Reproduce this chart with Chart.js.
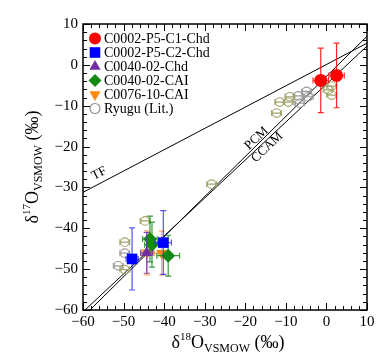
<!DOCTYPE html>
<html><head><meta charset="utf-8">
<script src="https://cdn.jsdelivr.net/npm/chart.js@4.4.1/dist/chart.umd.min.js"></script>
<style>html,body{margin:0;padding:0;background:#fff}</style>
</head><body>
<canvas id="c" width="390" height="360" style="width:390px;height:360px"></canvas>
<script>
// ---- data ----
const legendLabels = ['C0002-P5-C1-Chd','C0002-P5-C2-Chd','C0040-02-Chd','C0040-02-CAI','C0076-10-CAI','Ryugu (Lit.)'];
const xTickValues = [-60,-50,-40,-30,-20,-10,0,10];
const yTickValues = [-60,-50,-40,-30,-20,-10,0,10];

const c1X = [-1.4, 2.5],  c1Y = [-3.8, -2.6],  c1Ex = [1.9, 1.9], c1Ey = [7.9, 7.9];
const c2X = [-47.9, -40.2], c2Y = [-47.5, -43.5], c2Ex = [1.5, 2.0], c2Ey = [7.6, 7.8];
const c40ChdX = [-44.3], c40ChdY = [-46.0], c40ChdEx = [1.5], c40ChdEy = [5.0];
const c40CaiX = [-43.5, -43.0, -39.0], c40CaiY = [-42.6, -44.0, -46.7], c40CaiEx = [1.8, 1.8, 2.8], c40CaiEy = [5.6, 5.5, 5.0];
const c76X = [-44.2, -40.6], c76Y = [-46.0, -46.1], c76Ex = [1.5, 1.8], c76Ey = [5.4, 5.4];
const ryuguAX = [-11.5, -9.0, -9.4, -12.3, 1.3, 1.3, 0.4, -28.3, -44.7, -49.7, -49.7];
const ryuguAY = [-9.1, -7.8, -9.1, -11.8, -5.2, -7.4, -6.1, -29.2, -38.2, -43.4, -50.1];
const ryuguBX = [-7.0, -6.6, -4.5, -4.9, -49.7, -51.3];
const ryuguBY = [-7.6, -9.4, -7.8, -6.5, -46.1, -49.2];
const ryuguEx = 1.2;

const tfLineX = [-60, 10],  tfLineY = [-31.2, 5.3];
const pcmLineX = [-58.3, 10], pcmLineY = [-60, 7.0];
const ccamLineX = [-59.5, 10], ccamLineY = [-60, 4.6];

// ---- helpers ----
const pts = (xs, ys) => xs.map((x, i) => ({x: x, y: ys[i]}));
const SERIF = '"Liberation Serif", "DejaVu Serif", serif';
const minus = v => String(v).replace('-', '\u2212');

const RED = '#ff0000', BLUE = '#0000ff', PURPLE = '#7030a0', GREEN = '#138a13', ORANGE = '#ff8a10';
const OLIVE = '#a3a36a', GRAY = '#9a9a9a';

const lineDS = (xs, ys) => ({type: 'line', data: pts(xs, ys), showLine: true, borderColor: '#000', borderWidth: 1,
  pointRadius: 0, fill: false, order: 20});

const datasets = [
  {label: legendLabels[0], data: pts(c1X, c1Y), errX: c1Ex, errY: c1Ey, errColor: 'rgba(255,0,0,0.85)',
   pointStyle: 'circle', pointRadius: 6.5, backgroundColor: RED, borderColor: RED, borderWidth: 0, order: 1},
  {label: legendLabels[1], data: pts(c2X, c2Y), errX: c2Ex, errY: c2Ey, errColor: 'rgba(40,40,255,0.8)',
   pointStyle: 'rect', pointRadius: 7.5, backgroundColor: BLUE, borderColor: BLUE, borderWidth: 0, order: 2},
  {label: legendLabels[2], data: pts(c40ChdX, c40ChdY), errX: c40ChdEx, errY: c40ChdEy, errColor: 'rgba(112,48,160,0.85)',
   pointStyle: 'triangle', pointRadius: 6.5, backgroundColor: PURPLE, borderColor: PURPLE, borderWidth: 0, order: 3},
  {label: legendLabels[3], data: pts(c40CaiX, c40CaiY), errX: c40CaiEx, errY: c40CaiEy, errColor: 'rgba(19,138,19,0.85)',
   pointStyle: 'rectRot', pointRadius: 7, backgroundColor: GREEN, borderColor: GREEN, borderWidth: 0, order: 4},
  {label: legendLabels[4], data: pts(c76X, c76Y), errX: c76Ex, errY: c76Ey, errColor: 'rgba(255,150,60,0.8)',
   pointStyle: 'triangle', rotation: 180, pointRadius: 6.5, backgroundColor: ORANGE, borderColor: ORANGE, borderWidth: 0, order: 5},
  {label: legendLabels[5], data: pts(ryuguAX, ryuguAY), errX: ryuguAX.map(() => ryuguEx), errColor: OLIVE,
   pointStyle: 'circle', pointRadius: 4.3, backgroundColor: 'rgba(0,0,0,0)', borderColor: OLIVE, borderWidth: 1.1, order: 6},
  {label: legendLabels[5] + ' ', data: pts(ryuguBX, ryuguBY), errX: ryuguBX.map(() => ryuguEx), errColor: GRAY,
   pointStyle: 'circle', pointRadius: 4.3, backgroundColor: 'rgba(0,0,0,0)', borderColor: GRAY, borderWidth: 1.1, order: 6},
  lineDS(tfLineX, tfLineY),
  lineDS(pcmLineX, pcmLineY),
  lineDS(ccamLineX, ccamLineY)
];

const legendStyles = [
  {style: 'circle', r: 6, fill: RED, stroke: RED, bw: 0},
  {style: 'rect', r: 7.5, fill: BLUE, stroke: BLUE, bw: 0},
  {style: 'triangle', r: 6.5, fill: PURPLE, stroke: PURPLE, bw: 0},
  {style: 'rectRot', r: 6.5, fill: GREEN, stroke: GREEN, bw: 0},
  {style: 'triangle', r: 6.5, rot: 180, fill: ORANGE, stroke: ORANGE, bw: 0},
  {style: 'circle', r: 5, fill: 'rgba(0,0,0,0)', stroke: '#888', bw: 1.1}
];

function drawRich(ctx, segs, x, y, rotate) {
  ctx.save();
  ctx.translate(x, y);
  if (rotate) ctx.rotate(rotate);
  let total = 0;
  segs.forEach(s => { ctx.font = s.size + 'px ' + SERIF; s.w = ctx.measureText(s.t).width; total += s.w; });
  let cx = -total / 2;
  ctx.fillStyle = '#000';
  ctx.textBaseline = 'alphabetic';
  ctx.textAlign = 'left';
  segs.forEach(s => { ctx.font = s.size + 'px ' + SERIF; ctx.fillText(s.t, cx, s.dy || 0); cx += s.w; });
  ctx.restore();
}

const decor = {
  id: 'decor',
  beforeDatasetDraw(chart, args) {
    const ds = chart.data.datasets[args.index];
    if (!ds.errX && !ds.errY) return;
    const xs = chart.scales.x, ys = chart.scales.y, ctx = chart.ctx;
    const a = chart.chartArea;
    ctx.save();
    ctx.beginPath(); ctx.rect(a.left, a.top, a.right - a.left, a.bottom - a.top); ctx.clip();
    ctx.strokeStyle = ds.errColor; ctx.lineWidth = 1.2;
    ds.data.forEach((p, i) => {
      const px = xs.getPixelForValue(p.x), py = ys.getPixelForValue(p.y);
      ctx.beginPath();
      if (ds.errY) {
        const t = ys.getPixelForValue(p.y + ds.errY[i]), b = ys.getPixelForValue(p.y - ds.errY[i]);
        ctx.moveTo(px, t); ctx.lineTo(px, b);
        ctx.moveTo(px - 3, t); ctx.lineTo(px + 3, t);
        ctx.moveTo(px - 3, b); ctx.lineTo(px + 3, b);
      }
      if (ds.errX) {
        const l = xs.getPixelForValue(p.x - ds.errX[i]), r = xs.getPixelForValue(p.x + ds.errX[i]);
        ctx.moveTo(l, py); ctx.lineTo(r, py);
        ctx.moveTo(l, py - 3); ctx.lineTo(l, py + 3);
        ctx.moveTo(r, py - 3); ctx.lineTo(r, py + 3);
      }
      ctx.stroke();
    });
    ctx.restore();
  },
  afterDraw(chart) {
    const ctx = chart.ctx, a = chart.chartArea, xs = chart.scales.x, ys = chart.scales.y;
    ctx.save();
    // frame
    ctx.strokeStyle = '#000'; ctx.lineWidth = 1.5;
    ctx.strokeRect(a.left, a.top, a.right - a.left, a.bottom - a.top);
    // inward ticks
    ctx.lineWidth = 1;
    ctx.beginPath();
    for (let v = -60; v <= 10; v += 2) {
      const major = v % 10 === 0, L = major ? 7 : 4;
      const px = Math.round(xs.getPixelForValue(v)) + 0.5;
      ctx.moveTo(px, a.bottom); ctx.lineTo(px, a.bottom - L);
      ctx.moveTo(px, a.top); ctx.lineTo(px, a.top + L);
      const py = Math.round(ys.getPixelForValue(v)) + 0.5;
      ctx.moveTo(a.left, py); ctx.lineTo(a.left + L, py);
      ctx.moveTo(a.right, py); ctx.lineTo(a.right - L, py);
    }
    ctx.stroke();
    // line labels
    ctx.fillStyle = '#000';
    ctx.font = '13px ' + SERIF;
    ctx.textAlign = 'center'; ctx.textBaseline = 'middle';
    const lab = (t, x, y, ang) => {
      ctx.save(); ctx.translate(xs.getPixelForValue(x), ys.getPixelForValue(y)); ctx.rotate(ang);
      ctx.fillText(t, 0, 0); ctx.restore();
    };
    lab('TF', -56.0, -26.6, -0.48);
    lab('PCM', -17.2, -18.0, -0.76);
    lab('CCAM', -14.6, -20.2, -0.76);
    // legend
    ctx.font = '14px ' + SERIF;
    ctx.textAlign = 'left'; ctx.textBaseline = 'middle';
    legendStyles.forEach((s, i) => {
      const y = 38.5 + i * 14, x = 95;
      ctx.fillStyle = s.fill; ctx.strokeStyle = s.stroke; ctx.lineWidth = s.bw;
      Chart.helpers.drawPoint(ctx, {pointStyle: s.style, radius: s.r, rotation: s.rot || 0, borderWidth: s.bw}, x, y);
      ctx.fillStyle = '#000';
      ctx.fillText(legendLabels[i], 104, y + 1);
    });
    // axis titles
    drawRich(ctx, [{t: '\u03b4', size: 18}, {t: '18', size: 11, dy: -8}, {t: 'O', size: 18},
      {t: 'VSMOW', size: 12, dy: 4}, {t: ' (\u2030)', size: 18}], 228, 348, 0);
    drawRich(ctx, [{t: '\u03b4', size: 18}, {t: '17', size: 11, dy: -8}, {t: 'O', size: 18},
      {t: 'VSMOW', size: 12, dy: 4}, {t: ' (\u2030)', size: 18}], 38, 167, -Math.PI / 2);
    ctx.restore();
  }
};

new Chart(document.getElementById('c'), {
  type: 'scatter',
  data: {datasets: datasets},
  options: {
    responsive: false, animation: false, devicePixelRatio: 1,
    layout: {padding: {top: 24, right: 23, left: 0, bottom: 0}},
    plugins: {legend: {display: false}, tooltip: {enabled: false}},
    scales: {
      x: {type: 'linear', min: -60, max: 10,
        afterFit: s => { s.height = 50; },
        afterBuildTicks: s => { s.ticks = xTickValues.map(v => ({value: v})); },
        grid: {display: false, drawTicks: false}, border: {display: false},
        ticks: {padding: 3, color: '#000', autoSkip: false, maxRotation: 0, font: {family: SERIF, size: 15}, callback: v => minus(v)}},
      y: {type: 'linear', min: -60, max: 10,
        afterFit: s => { s.width = 83; },
        afterBuildTicks: s => { s.ticks = yTickValues.map(v => ({value: v})); },
        grid: {display: false, drawTicks: false}, border: {display: false},
        ticks: {padding: 5, color: '#000', autoSkip: false, font: {family: SERIF, size: 15}, callback: v => minus(v)}}
    }
  },
  plugins: [decor]
});
</script>
</body></html>
